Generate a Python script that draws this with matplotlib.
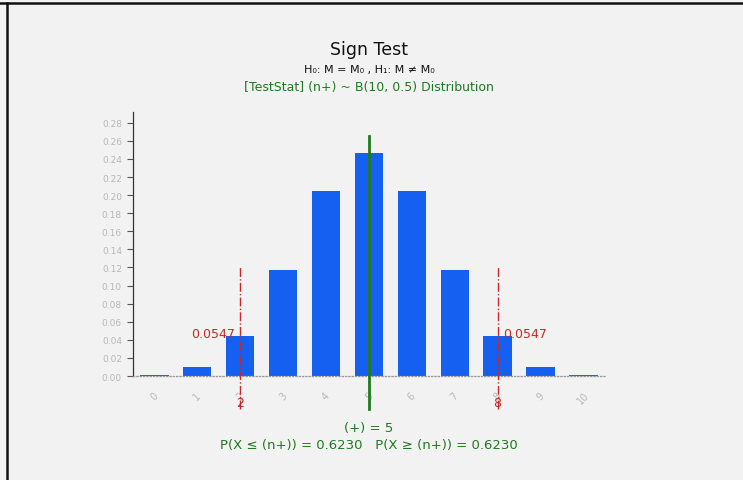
import numpy as np
import matplotlib
matplotlib.use("Agg")
from matplotlib import pyplot as plt
from matplotlib.lines import Line2D

# data
k_values = [0, 1, 2, 3, 4, 5, 6, 7, 8, 9, 10]
probs = [0.0010, 0.0098, 0.0439, 0.1172, 0.2051, 0.2461, 0.2051, 0.1172, 0.0439, 0.0098, 0.0010]
yticks = [0.00, 0.02, 0.04, 0.06, 0.08, 0.10, 0.12, 0.14, 0.16, 0.18, 0.20, 0.22, 0.24, 0.26, 0.28]
n_plus = 5
crit_lo, crit_hi = 2, 8
tail_lo, tail_hi = 0.0547, 0.0547
p_le, p_ge = 0.6230, 0.6230

bg = '#f2f2f2'
green = '#1f7a1f'
red = '#c82828'
blue = '#1560f0'
tickgray = '#b8b8b8'

fig = plt.figure(figsize=(7.43, 4.81), dpi=100, facecolor=bg)
ax = fig.add_axes([0.179, 0.2162, 0.635, 0.549], facecolor=bg)

ax.bar(k_values, probs, width=0.66, color=blue, zorder=2)

ax.set_xlim(-0.5, 10.5)
ax.set_ylim(0, 0.292)
ax.set_yticks(yticks)
ax.set_yticklabels([f'{v:.2f}' for v in yticks], color=tickgray, fontsize=6.5)
ax.set_xticks(k_values)
ax.set_xticklabels([str(k) for k in k_values], color=tickgray, fontsize=7, rotation=45)
ax.tick_params(axis='y', length=4, color='#555555', width=0.8, pad=4)
ax.tick_params(axis='x', length=0, pad=10)

for s in ['top', 'right']:
    ax.spines[s].set_visible(False)
ax.spines['left'].set_color('#333333')
ax.spines['left'].set_linewidth(0.9)
ax.spines['bottom'].set_color('#999999')
ax.spines['bottom'].set_linestyle(':')
ax.spines['bottom'].set_linewidth(0.9)

# observed statistic line
ax.plot([n_plus, n_plus], [-0.036, 0.265], color=green, lw=2, clip_on=False, zorder=3)

# critical value lines
for c in [crit_lo, crit_hi]:
    ax.plot([c, c], [-0.036, 0.12], color=red, lw=1, ls='-.', clip_on=False, zorder=3)
    ax.text(c, -0.022, str(c), color=red, fontsize=9, ha='center', va='top')

ax.text(crit_lo - 0.12, 0.047, f'{tail_lo:.4f}', color=red, fontsize=9, ha='right', va='center')
ax.text(crit_hi + 0.12, 0.047, f'{tail_hi:.4f}', color=red, fontsize=9, ha='left', va='center')

ax.text(n_plus, -0.05, f'(+) = {n_plus}', color=green, fontsize=9.5, ha='center', va='top')
ax.text(n_plus, -0.068, f'P(X ≤ (n+)) = {p_le:.4f}   P(X ≥ (n+)) = {p_ge:.4f}',
        color=green, fontsize=9.5, ha='center', va='top')

cx = 0.179 + 0.635 / 2
fig.text(cx, 1 - 50 / 481, 'Sign Test', fontsize=12.5, ha='center', va='center', color='#111111')
fig.text(cx, 1 - 70 / 481, 'H₀: M = M₀ , H₁: M ≠ M₀', fontsize=8, ha='center', va='center', color='#111111')
fig.text(cx, 1 - 88 / 481, '[TestStat] (n+) ~ B(10, 0.5) Distribution', fontsize=9,
         ha='center', va='center', color=green)

# frame lines
fig.add_artist(Line2D([0, 1], [1 - 4 / 481, 1 - 4 / 481], color='#111111', lw=1.8, transform=fig.transFigure))
fig.add_artist(Line2D([7.5 / 743, 7.5 / 743], [0, 1 - 4 / 481], color='#111111', lw=1.8, transform=fig.transFigure))

fig.savefig('out.png', dpi=100, facecolor=bg)
